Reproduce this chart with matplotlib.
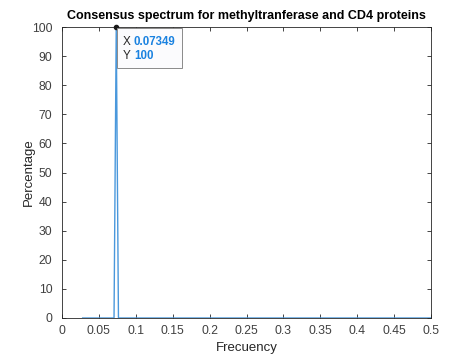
import matplotlib.pyplot as plt
from matplotlib.patches import Rectangle

# spectrum trace (frequency vs percentage)
freq = [0.028, 0.0705, 0.07349, 0.0765, 0.5]
pct = [0, 0, 100, 0, 0]
peak_x = 0.07349
peak_y = 100

xticks = [0, 0.05, 0.1, 0.15, 0.2, 0.25, 0.3, 0.35, 0.4, 0.45, 0.5]
xtick_labels = ['0', '0.05', '0.1', '0.15', '0.2', '0.25', '0.3', '0.35', '0.4', '0.45', '0.5']
yticks = list(range(0, 101, 10))

plt.rcParams['font.family'] = 'Liberation Sans'
fig = plt.figure(figsize=(4.76, 3.57), dpi=100)
ax = fig.add_axes([62 / 476, 1 - 318 / 357, 369 / 476, 291 / 357])

ax.plot(freq, pct, color='#4a98dc', linewidth=1.0)
ax.set_xlim(0, 0.5)
ax.set_ylim(0, 100)
ax.set_xticks(xticks)
ax.set_xticklabels(xtick_labels)
ax.set_yticks(yticks)
ax.tick_params(direction='in', length=3, width=0.6, color='#262626',
               labelcolor='#404040', labelsize=8.8, top=True, right=True)
ax.tick_params(axis='x', pad=5)
ax.tick_params(axis='y', pad=7)
for s in ax.spines.values():
    s.set_color('#262626')
    s.set_linewidth(0.6)

ax.set_xlabel('Frecuency', fontsize=9.5, color='#262626', labelpad=4)
ax.set_ylabel('Percentage', fontsize=9.5, color='#262626', labelpad=-2)
ax.set_title('Consensus spectrum for methyltranferase and CD4 proteins',
             fontsize=9.0, fontweight='bold', pad=6)

# data tip
ax.plot([peak_x], [peak_y], 'o', color='#1a1a1a', markersize=3, clip_on=False, zorder=5)
W, H = 476, 357
fig.patches.append(Rectangle((117 / W, 1 - 68 / H), 65 / W, 40 / H,
                             transform=fig.transFigure, facecolor='#fbfbfd',
                             edgecolor='#8a8a8a', linewidth=0.7, zorder=10))
fig.text(123 / W, 1 - 42 / H, 'X', fontsize=8.5, color='#262626', va='center', zorder=11)
fig.text(134 / W, 1 - 42 / H, f'{peak_x:.5f}', fontsize=8.3, color='#1a82e0',
         fontweight='bold', va='center', zorder=11)
fig.text(123 / W, 1 - 56 / H, 'Y', fontsize=8.5, color='#262626', va='center', zorder=11)
fig.text(134 / W, 1 - 56 / H, f'{peak_y}', fontsize=8.3, color='#1a82e0',
         fontweight='bold', va='center', zorder=11)

fig.savefig('out.png', dpi=100)
